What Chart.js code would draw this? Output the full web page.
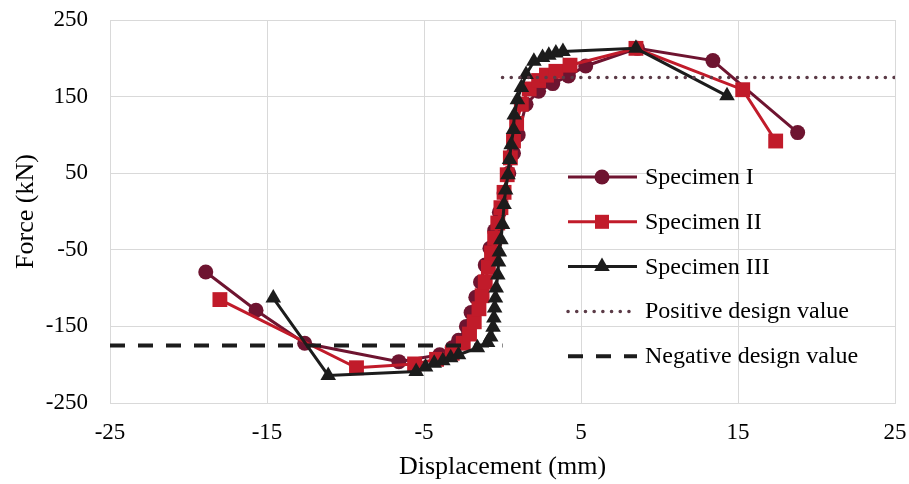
<!DOCTYPE html>
<html>
<head>
<meta charset="utf-8">
<script src="https://cdn.jsdelivr.net/npm/chart.js@4/dist/chart.umd.min.js"></script>
<style>
  html, body { margin: 0; padding: 0; background: #fff; }
</style>
</head>
<body>
<canvas id="c" width="909" height="484"></canvas>
<script>
// axis ticks
const xTicks = [-25, -15, -5, 5, 15, 25];
const yTicks = [-250, -150, -50, 50, 150, 250];

// Specimen I
const spec1X = [-18.9, -15.7, -12.6, -6.6, -4.0, -3.2, -2.8, -2.3, -2.0, -1.7, -1.4, -1.1, -0.8, -0.5, -0.2, 0.1, 0.4, 0.7, 1.0, 1.5, 2.3, 3.2, 4.2, 5.3, 8.6, 13.4, 18.8];
const spec1Y = [-79, -129, -172, -196, -187, -178, -168, -150, -132, -112, -92, -70, -48, -25, -1, 24, 50, 76, 100, 140, 157, 167, 177, 190, 213, 197, 103];

// Specimen II
const spec2X = [-18.0, -9.3, -5.6, -4.2, -3.2, -2.5, -2.1, -1.8, -1.5, -1.3, -1.1, -0.9, -0.7, -0.5, -0.3, -0.1, 0.1, 0.3, 0.5, 0.7, 0.9, 1.2, 1.7, 2.3, 2.8, 3.4, 4.3, 8.5, 15.3, 17.4];
const spec2Y = [-115, -204, -199, -193, -185, -172, -160, -144, -127, -110, -92, -73, -54, -35, -15, 5, 25, 48, 70, 92, 115, 140, 160, 171, 178, 183, 191, 213, 159, 92];

// Specimen III
const spec3X = [-14.6, -11.1, -5.5, -4.9, -4.35, -3.8, -3.3, -2.8, -1.6, -0.95, -0.75, -0.6, -0.55, -0.5, -0.45, -0.4, -0.3, -0.25, -0.2, -0.1, 0.0, 0.1, 0.2, 0.35, 0.45, 0.55, 0.7, 0.75, 0.95, 1.2, 1.5, 2.0, 2.55, 2.95, 3.4, 3.85, 8.5, 14.3];
const spec3Y = [-113, -214, -209, -203, -198, -195, -191, -187, -178, -171, -164, -151, -139, -126, -113, -100, -83, -66, -53, -37, -17, 9, 28, 48, 68, 87, 107, 126, 146, 162, 179, 196, 201, 204, 207, 209, 213, 151];

// design values
const posDesignX = [0, 25];
const posDesignY = [175, 175];
const negDesignX = [-25, 0];
const negDesignY = [-175, -175];

const maroon = '#6e1430';
const red = '#c11b2a';
const black = '#1c1c1c';
const dotColor = '#5b3b47';
const serif = 'Liberation Serif';

const pts = (xs, ys) => xs.map((x, i) => ({ x, y: ys[i] }));

const legendItems = [
  { label: 'Specimen I', color: maroon, width: 3, dash: [], marker: 'circle' },
  { label: 'Specimen II', color: red, width: 3, dash: [], marker: 'rect' },
  { label: 'Specimen III', color: black, width: 3, dash: [], marker: 'triangle' },
  { label: 'Positive design value', color: dotColor, width: 3.5, dash: [0.1, 8.6], cap: 'round' },
  { label: 'Negative design value', color: black, width: 4, dash: [15, 13] }
];

const insideLegend = {
  id: 'insideLegend',
  afterDraw(chart) {
    const ctx = chart.ctx;
    ctx.save();
    legendItems.forEach((it, i) => {
      const y = 177 + i * 44.8;
      ctx.strokeStyle = it.color;
      ctx.lineWidth = it.width;
      ctx.lineCap = it.cap || 'butt';
      ctx.setLineDash(it.dash);
      ctx.beginPath();
      ctx.moveTo(568, y);
      ctx.lineTo(637, y);
      ctx.stroke();
      ctx.setLineDash([]);
      ctx.fillStyle = it.color;
      const cx = 602;
      if (it.marker === 'circle') {
        ctx.beginPath();
        ctx.arc(cx, y, 7.5, 0, Math.PI * 2);
        ctx.fill();
      } else if (it.marker === 'rect') {
        ctx.fillRect(cx - 7, y - 7, 14, 14);
      } else if (it.marker === 'triangle') {
        const r = 9;
        ctx.beginPath();
        for (let k = 0; k < 3; k++) {
          const a = k * 2 * Math.PI / 3;
          const px = cx + Math.sin(a) * r, py = y - Math.cos(a) * r;
          k ? ctx.lineTo(px, py) : ctx.moveTo(px, py);
        }
        ctx.closePath();
        ctx.fill();
      }
      ctx.fillStyle = '#000';
      ctx.font = '24px "' + serif + '"';
      ctx.textBaseline = 'alphabetic';
      ctx.fillText(it.label, 645, y + 7);
    });
    ctx.restore();
  }
};

// keep label overflow from pushing the plot area around
const noOverflow = s => { s.paddingTop = 0; s.paddingBottom = 0; s.paddingLeft = 0; s.paddingRight = 0; };

new Chart(document.getElementById('c'), {
  type: 'line',
  data: {
    datasets: [
      { label: 'Negative design value', data: pts(negDesignX, negDesignY), borderColor: black, borderWidth: 4, borderDash: [15, 13], pointRadius: 0, order: 0 },
      { label: 'Positive design value', data: pts(posDesignX, posDesignY), borderColor: dotColor, borderWidth: 3.5, borderDash: [0.1, 8.6], borderCapStyle: 'round', pointRadius: 0, order: 0 },
      { label: 'Specimen III', data: pts(spec3X, spec3Y), borderColor: black, backgroundColor: black, borderWidth: 3, pointStyle: 'triangle', pointRadius: 9, pointBorderWidth: 0, order: 1 },
      { label: 'Specimen II', data: pts(spec2X, spec2Y), borderColor: red, backgroundColor: red, borderWidth: 3, pointStyle: 'rect', pointRadius: 10.5, pointBorderWidth: 0, order: 2 },
      { label: 'Specimen I', data: pts(spec1X, spec1Y), borderColor: maroon, backgroundColor: maroon, borderWidth: 3, pointStyle: 'circle', pointRadius: 7.5, pointBorderWidth: 0, order: 3 }
    ]
  },
  options: {
    responsive: false,
    animation: false,
    layout: { padding: { top: 20, right: 14, left: 0, bottom: 0 } },
    plugins: { legend: { display: false }, tooltip: { enabled: false } },
    scales: {
      x: {
        type: 'linear', min: -25, max: 25,
        afterBuildTicks: s => { s.ticks = xTicks.map(v => ({ value: v })); },
        afterFit: s => { s.height = 81; noOverflow(s); },
        grid: { color: '#d9d9d9', drawTicks: false },
        border: { color: '#d9d9d9' },
        ticks: { padding: 16, color: '#000', autoSkip: false, maxRotation: 0, font: { family: serif, size: 23 } },
        title: { display: true, text: 'Displacement (mm)', color: '#000', font: { family: serif, size: 26 }, padding: { top: 0, bottom: 1 } }
      },
      y: {
        type: 'linear', min: -250, max: 250,
        afterBuildTicks: s => { s.ticks = yTicks.map(v => ({ value: v })); },
        afterFit: s => { s.width = 110; noOverflow(s); },
        grid: { color: '#d9d9d9', drawTicks: false },
        border: { color: '#d9d9d9' },
        ticks: { padding: 22, color: '#000', font: { family: serif, size: 23 } },
        title: { display: true, text: 'Force (kN)', color: '#000', font: { family: serif, size: 26 }, padding: { top: 11, bottom: 0 } }
      }
    }
  },
  plugins: [insideLegend]
});
</script>
</body>
</html>
